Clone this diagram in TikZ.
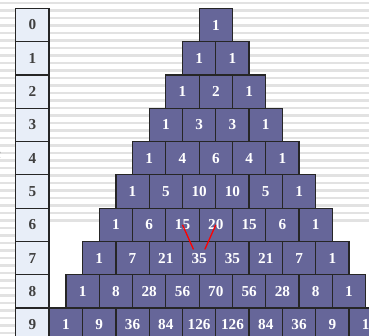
\documentclass[tikz,border=0pt]{standalone}
\usepackage{fontspec}
\setmainfont{Liberation Serif}
\usetikzlibrary{positioning, calc}
\definecolor{cellblue}{RGB}{102, 102, 153}
\definecolor{idxblue}{RGB}{232, 238, 248}
\definecolor{idxtext}{RGB}{64, 64, 64}
\definecolor{stripegray}{RGB}{226, 226, 226}

\begin{document}
\begin{tikzpicture}[
    cell/.style={draw=black!85, line width=1.1pt, fill=cellblue, minimum size=1cm,
                 inner sep=0pt, text=white, font=\bfseries\fontsize{13}{13}\selectfont},
    idx/.style={draw=black!85, line width=1.1pt, fill=idxblue, minimum size=1cm,
                inner sep=0pt, text=idxtext, font=\bfseries\fontsize{13}{13}\selectfont},
    link/.style={draw=red, line width=1.1pt}
]
    \clip (0,0) rectangle (11.08,-10.06);
    % striped backdrop
    \foreach \s in {0,...,44}
        \fill[stripegray] (0,-0.06-\s*0.225) rectangle ++(11.08,-0.07);
    \fill[white] (1.48,-6.7) rectangle (11.08,-10.06);
    \node[anchor=east, font=\bfseries\itshape\fontsize{13}{13}\selectfont] (cut) at (0.16,-4.65) {n};

    % row numbers
    \foreach \n in {0,...,9}
        \node[idx] (r\n) at (0.975,-0.75-\n) {\n};

    % the triangle
    \foreach \n/\vals in {0/{1}, 1/{1,1}, 2/{1,2,1}, 3/{1,3,3,1}, 4/{1,4,6,4,1},
                          5/{1,5,10,10,5,1}, 6/{1,6,15,20,15,6,1},
                          7/{1,7,21,35,35,21,7,1}, 8/{1,8,28,56,70,56,28,8,1},
                          9/{1,9,36,84,126,126,84,36,9,1}}
        \foreach \v [count=\k from 0] in \vals
            \node[cell] (c\n\k) at (6.48-\n/2+\k,-0.75-\n) {\v};

    % 15 + 20 = 35
    \coordinate (sumL) at ($(c73.center)+(-0.17,0.26)$);
    \coordinate (sumR) at ($(c73.center)+(0.17,0.26)$);
    \draw[link] (c62.center) -- (sumL);
    \draw[link] (c63.center) -- (sumR);
\end{tikzpicture}
\end{document}
